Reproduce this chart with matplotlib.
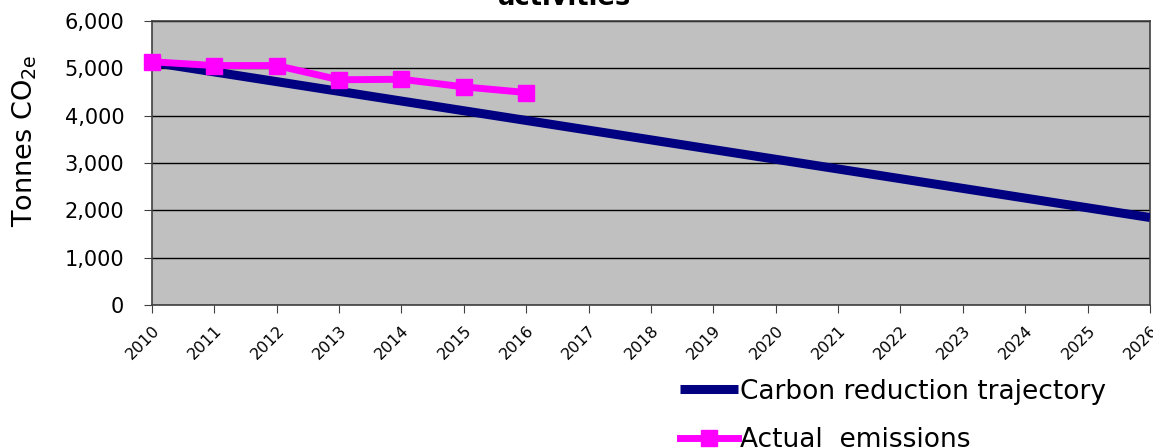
import matplotlib.pyplot as plt
from matplotlib.ticker import FuncFormatter

# data
years = list(range(2010, 2027))
trajectory = [5130, 4925, 4720, 4515, 4310, 4105, 3900, 3695, 3490,
              3285, 3080, 2875, 2670, 2465, 2260, 2055, 1850]
actual_years = [2010, 2011, 2012, 2013, 2014, 2015, 2016]
actual = [5140, 5060, 5060, 4760, 4770, 4610, 4490]

fig = plt.figure(figsize=(11.53, 4.48), dpi=100)
ax = fig.add_axes([0.1318, 0.319, 0.8656, 0.634])
ax.set_facecolor('#C0C0C0')

l1, = ax.plot(years, trajectory, color='#000080', lw=6.5, solid_capstyle='butt',
              label='Carbon reduction trajectory', zorder=3)
l2, = ax.plot(actual_years, actual, color='#FF00FF', lw=5, marker='s', ms=11,
              label='Actual  emissions', zorder=4, clip_on=False)

ax.set_xlim(2010, 2026)
ax.set_ylim(0, 6000)
ax.set_xticks(years)
ax.set_xticklabels([str(y) for y in years], rotation=45, ha='right',
                   rotation_mode='anchor', fontsize=11.5)
ax.set_yticks(range(0, 7000, 1000))
ax.yaxis.set_major_formatter(FuncFormatter(lambda v, p: f'{int(v):,}'))
ax.tick_params(axis='y', labelsize=15, length=6, color='#404040', pad=14)
ax.tick_params(axis='x', length=6, color='#404040', pad=7)
ax.grid(axis='y', color='black', lw=1)
ax.set_axisbelow(True)
for s in ax.spines.values():
    s.set_color('#404040')
    s.set_linewidth(1.2)

ax.set_ylabel(r'Tonnes CO$_\mathregular{2e}$', fontsize=19.5)
ax.yaxis.set_label_coords(-0.113, 0.58)

fig.text(0.49, 1 - 5 / 448, 'activities', fontsize=18.5, fontweight='bold',
         ha='center', va='baseline')

fig.legend(handles=[l1, l2], loc='upper left', bbox_to_anchor=(0.59, 0.155),
           frameon=False, fontsize=19, handlelength=2.2, handletextpad=0.05,
           labelspacing=0.85, borderpad=0, borderaxespad=0)

fig.savefig('out.png', dpi=100)
